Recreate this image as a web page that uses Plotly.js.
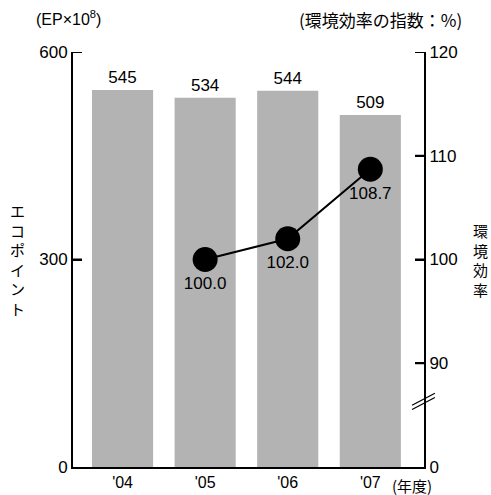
<!DOCTYPE html>
<html>
<head>
<meta charset="utf-8">
<script src="https://cdn.plot.ly/plotly-3.0.1.min.js"></script>
<style>html,body{margin:0;padding:0;background:#fff;}#chart{width:491px;height:495px;}</style>
</head>
<body>
<div id="chart"></div>
<script>
const categories = ["'04", "'05", "'06", "'07"];
const ecoPoints = [545, 534, 544, 509];
const effCategories = ["'05", "'06", "'07"];
const effIndex = [100.0, 102.0, 108.7];
const effLabels = ["100.0", "102.0", "108.7"];
const leftTickVals = [0, 300, 600];
const rightTickVals = [80, 90, 100, 110, 120];
const rightTickText = ["0", "90", "100", "110", "120"];

const FONT = 'Liberation Sans, Arial, "Noto Sans CJK JP", sans-serif';
const JP = '"Noto Sans CJK JP", Liberation Sans, sans-serif';
const PLOT_W = 491 - 73 - 67;
const TICK = 9 / PLOT_W;

const bars = {
  type: 'bar',
  x: categories,
  y: ecoPoints,
  text: ecoPoints.map(String),
  textposition: 'outside',
  cliponaxis: false,
  textfont: {size: 17, color: '#000', family: FONT},
  marker: {color: '#b3b3b3', line: {width: 0}},
  width: 0.74,
  hoverinfo: 'skip'
};

const line = {
  type: 'scatter',
  mode: 'lines+markers+text',
  x: effCategories,
  y: effIndex,
  yaxis: 'y2',
  text: effLabels,
  textposition: 'bottom center',
  textfont: {size: 17, color: '#000', family: FONT},
  line: {color: '#000', width: 2},
  marker: {color: '#000', size: 25},
  cliponaxis: false,
  hoverinfo: 'skip'
};

const tickShapes = [];
leftTickVals.filter(v => v > 0).forEach(v => tickShapes.push(
  {type: 'line', xref: 'paper', yref: 'y', x0: 0, x1: TICK, y0: v, y1: v, line: {color: '#000', width: 2}}));
rightTickVals.filter(v => v > 80).forEach(v => tickShapes.push(
  {type: 'line', xref: 'paper', yref: 'y2', x0: 1 - TICK, x1: 1, y0: v, y1: v, line: {color: '#000', width: 2}}));

const layout = {
  width: 491,
  height: 495,
  margin: {l: 73, r: 67, t: 52, b: 28},
  paper_bgcolor: '#fff',
  plot_bgcolor: '#fff',
  showlegend: false,
  font: {family: FONT, size: 17, color: '#000'},
  xaxis: {
    type: 'category',
    range: [-0.6, 3.65],
    showline: true, linecolor: '#000', linewidth: 2,
    ticks: '', showgrid: false, zeroline: false,
    ticklabelstandoff: 0,
    tickfont: {size: 16, family: FONT, color: '#000'},
    fixedrange: true
  },
  yaxis: {
    range: [0, 600],
    tickvals: leftTickVals,
    ticks: 'inside', ticklen: 9, tickwidth: 2, tickcolor: '#000',
    showline: true, linecolor: '#000', linewidth: 2,
    showgrid: false, zeroline: false,
    tickfont: {size: 17, family: FONT, color: '#000'},
    fixedrange: true
  },
  yaxis2: {
    overlaying: 'y',
    side: 'right',
    range: [80, 120],
    tickvals: rightTickVals,
    ticktext: rightTickText,
    ticks: 'inside', ticklen: 9, tickwidth: 2, tickcolor: '#000',
    showline: true, linecolor: '#000', linewidth: 2,
    showgrid: false, zeroline: false,
    tickfont: {size: 17, family: FONT, color: '#000'},
    fixedrange: true
  },
  shapes: tickShapes.concat([
    {type: 'line', xref: 'paper', yref: 'y2', x0: 0.966, x1: 1.031, y0: 85.95, y1: 87.1, line: {color: '#000', width: 1.2}},
    {type: 'line', xref: 'paper', yref: 'y2', x0: 0.966, x1: 1.031, y0: 85.55, y1: 86.7, line: {color: '#000', width: 1.2}}
  ]),
  annotations: [
    {xref: 'paper', yref: 'paper', x: -0.012, y: 1.0, yshift: 34, xanchor: 'center', yanchor: 'middle',
     text: '(EP×10<sup>8</sup>)', showarrow: false, font: {size: 16, family: FONT, color: '#000'}},
    {xref: 'paper', yref: 'paper', x: 0.877, y: 1.0, yshift: 33, xanchor: 'center', yanchor: 'middle',
     text: '(環境効率の指数：%)', showarrow: false, font: {size: 17, family: JP, color: '#000'}},
    {xref: 'paper', yref: 'paper', x: 0, xshift: -56, y: 0.5, xanchor: 'center', yanchor: 'middle',
     text: 'エ<br>コ<br>ポ<br>イ<br>ン<br>ト', showarrow: false, font: {size: 15, family: JP, color: '#000'}},
    {xref: 'paper', yref: 'paper', x: 1, xshift: 56, y: 0.5, xanchor: 'center', yanchor: 'middle',
     text: '環<br>境<br>効<br>率', showarrow: false, font: {size: 15, family: JP, color: '#000'}},
    {xref: 'paper', yref: 'paper', x: 0.965, y: 0, yshift: -18, xanchor: 'center', yanchor: 'middle',
     text: '(年度)', showarrow: false, font: {size: 15, family: JP, color: '#000'}}
  ]
};

Plotly.newPlot('chart', [bars, line], layout, {displayModeBar: false, staticPlot: true});
</script>
</body>
</html>
